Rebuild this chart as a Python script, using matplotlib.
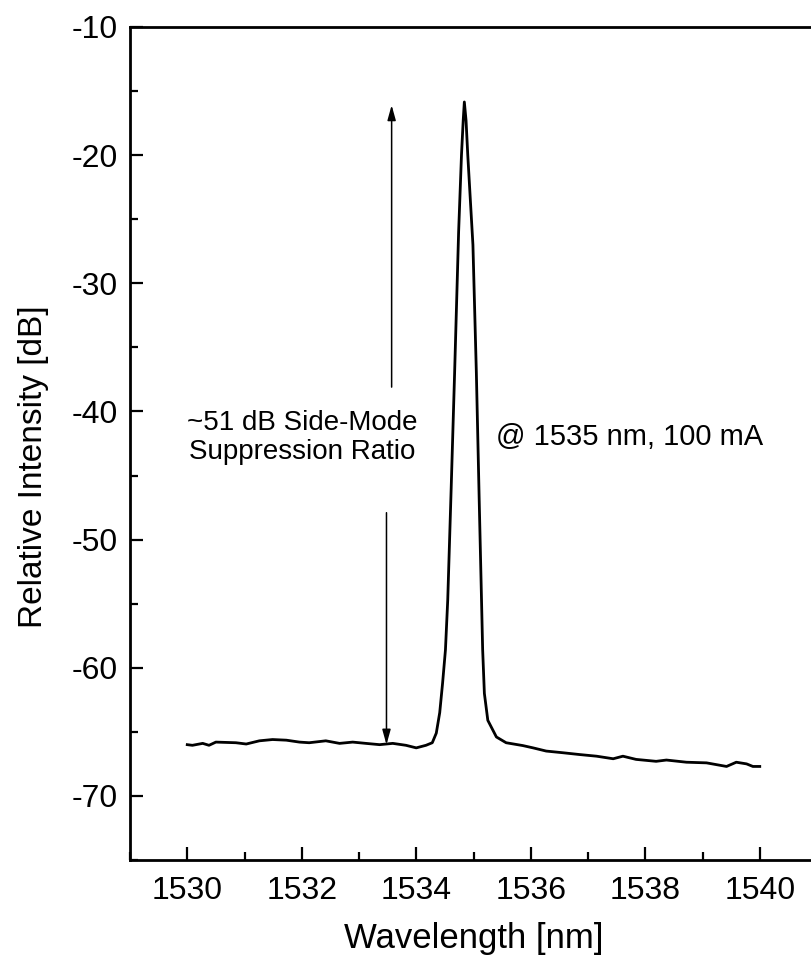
import matplotlib
matplotlib.use("Agg")
import matplotlib.pyplot as plt
from matplotlib.ticker import MultipleLocator

# DATA

wavelength = [
    1530.00, 1530.09, 1530.27, 1530.38, 1530.50, 1530.85, 1531.03, 1531.26,
    1531.49, 1531.73, 1531.96, 1532.13, 1532.42, 1532.66, 1532.89, 1533.12,
    1533.36, 1533.59, 1533.82, 1534.00, 1534.17, 1534.28, 1534.35, 1534.41,
    1534.46, 1534.51, 1534.55, 1534.61, 1534.67, 1534.74, 1534.79, 1534.82,
    1534.84, 1534.87, 1534.90, 1534.99, 1535.05, 1535.10, 1535.14, 1535.16,
    1535.19, 1535.25, 1535.40, 1535.57, 1535.86, 1536.04, 1536.27, 1536.56,
    1536.85, 1537.15, 1537.44, 1537.61, 1537.84, 1538.19, 1538.37, 1538.72,
    1539.07, 1539.42, 1539.59, 1539.77, 1539.88, 1540.00,
]
intensity = [
    -66.00, -66.05, -65.90, -66.05, -65.80, -65.85, -65.95, -65.70,
    -65.60, -65.65, -65.80, -65.85, -65.70, -65.90, -65.80, -65.90,
    -66.00, -65.90, -66.05, -66.25, -66.05, -65.85, -65.10, -63.50,
    -61.20, -58.60, -54.70, -46.00, -37.00, -26.00, -20.00, -17.30,
    -15.85, -17.30, -20.00, -27.00, -37.00, -47.00, -54.70, -58.60,
    -62.00, -64.10, -65.40, -65.85, -66.07, -66.25, -66.50, -66.63,
    -66.77, -66.90, -67.10, -66.90, -67.15, -67.30, -67.20, -67.37,
    -67.42, -67.70, -67.37, -67.50, -67.70, -67.70,
]

x_ticks = [1530, 1532, 1534, 1536, 1538, 1540]
y_ticks = [-70, -60, -50, -40, -30, -20, -10]

# side-mode suppression arrows: x, start, end
arrow_up = (1533.57, -38.1, -16.1)
arrow_down = (1533.48, -47.9, -66.0)

# STYLE

plt.rcParams.update({
    "font.family": ["Liberation Sans", "DejaVu Sans"],
    "axes.unicode_minus": False,
    "axes.linewidth": 2.0,
})

fig = plt.figure(figsize=(8.11, 9.72), dpi=100)
ax = fig.add_axes([130 / 811, 112 / 972, 687 / 811, 833 / 972])

ax.plot(wavelength, intensity, color="black", linewidth=2.0)

for x, y0, y1 in (arrow_up, arrow_down):
    ax.annotate("", xy=(x, y1), xytext=(x, y0),
                arrowprops=dict(arrowstyle="-|>,head_length=0.9,head_width=0.25",
                                mutation_scale=10, color="black", lw=1.1,
                                shrinkA=0, shrinkB=0))

ax.text(1532.01, -42.06, "~51 dB Side-Mode\nSuppression Ratio",
        ha="center", va="center", fontsize=20, linespacing=1.15)
ax.text(1535.40, -42.0, "@ 1535 nm, 100 mA",
        ha="left", va="center", fontsize=21)

ax.set_xlim(1529, 1541)
ax.set_ylim(-75, -10)
ax.set_xticks(x_ticks)
ax.set_yticks(y_ticks)
ax.xaxis.set_minor_locator(MultipleLocator(1))
ax.yaxis.set_minor_locator(MultipleLocator(5))
ax.tick_params(which="both", direction="in", top=False, right=False,
               width=1.6, labelsize=23)
ax.tick_params(axis="x", which="major", length=9.5, pad=11.5)
ax.tick_params(axis="y", which="major", length=9.5, pad=8.5)
ax.tick_params(which="minor", length=6)

ax.set_xlabel("Wavelength [nm]", fontsize=25)
ax.set_ylabel("Relative Intensity [dB]", fontsize=24)
ax.xaxis.set_label_coords(0.50, -0.0745)
ax.yaxis.set_label_coords(-0.118, 0.472)

fig.savefig("out.png", dpi=100)
